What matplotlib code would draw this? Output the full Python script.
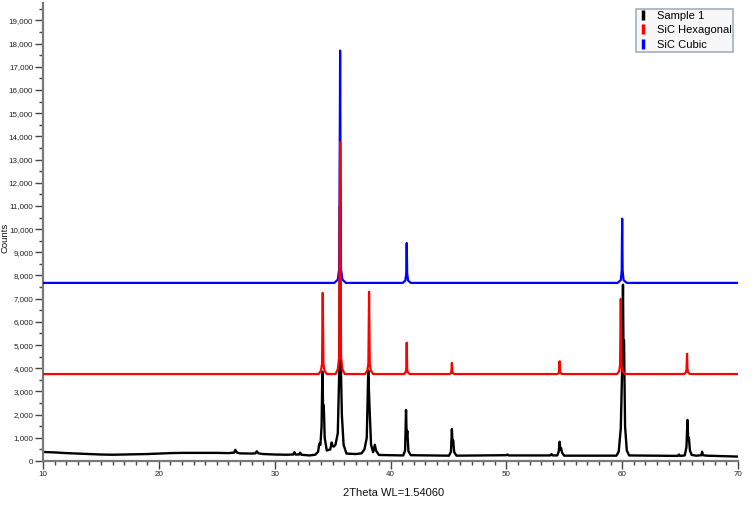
import matplotlib
matplotlib.use("Agg")
import matplotlib.pyplot as plt
from matplotlib.lines import Line2D
from matplotlib.ticker import MultipleLocator, FuncFormatter

plt.rcParams['font.family'] = ['Liberation Sans', 'DejaVu Sans']

series_names = ["Sample 1", "SiC Hexagonal", "SiC Cubic"]
series_colors = ["#000000", "#FF0000", "#0000FF"]

# SiC cubico (deslocado para 7680)
cubic_x = [10, 35.15, 35.45, 35.58, 35.65, 35.72, 35.85, 36.15,
           41.05, 41.28, 41.36, 41.4, 41.44, 41.52, 41.75,
           59.6, 59.88, 59.96, 60.0, 60.04, 60.12, 60.4, 70]
cubic_y = [7680, 7680, 7820, 8300, 17700, 8300, 7820, 7680,
           7680, 7780, 8100, 9400, 8100, 7780, 7680,
           7680, 7800, 8200, 10450, 8200, 7800, 7680, 7680]

# SiC hexagonal (deslocado para 3750)
hex_x = [10,
         33.8, 34.0, 34.09, 34.15, 34.21, 34.3, 34.5,
         35.25, 35.45, 35.57, 35.65, 35.73, 35.85, 36.05,
         37.8, 38.0, 38.09, 38.15, 38.21, 38.3, 38.5,
         41.15, 41.3, 41.36, 41.4, 41.44, 41.5, 41.65,
         45.1, 45.25, 45.3, 45.35, 45.5,
         54.4, 54.55, 54.6, 54.65, 54.8,
         59.55, 59.75, 59.82, 59.88, 59.94, 60.03, 60.23,
         65.35, 65.5, 65.56, 65.6, 65.64, 65.7, 65.85,
         70]
hex_y = [3750,
         3750, 3900, 4200, 7250, 4200, 3900, 3750,
         3750, 3950, 4500, 13750, 4500, 3950, 3750,
         3750, 3900, 4200, 7300, 4200, 3900, 3750,
         3750, 3820, 3950, 5100, 3950, 3820, 3750,
         3750, 3810, 4230, 3810, 3750,
         3750, 3810, 4300, 3810, 3750,
         3750, 3880, 4150, 6990, 4150, 3880, 3750,
         3750, 3820, 3950, 4620, 3950, 3820, 3750,
         3750]

# amostra 1 (medida)
sample_x = [10, 11, 12, 13, 14, 15, 16, 17, 18, 19, 20, 21, 22, 23, 24, 25, 26,
            26.5, 26.6, 26.75, 27, 28, 28.35, 28.45, 28.6, 29, 30, 31,
            31.6, 31.7, 31.8, 32.1, 32.2, 32.3, 33, 33.5,
            33.75, 33.85, 33.95, 34.05, 34.12, 34.18, 34.24, 34.32, 34.5,
            34.8, 34.92, 35.0, 35.1, 35.25, 35.45, 35.58, 35.64, 35.7, 35.8, 35.95, 36.2,
            37, 37.5, 37.75, 37.95, 38.08, 38.14, 38.2, 38.32, 38.5, 38.65, 38.75, 39,
            41.1, 41.26, 41.34, 41.4, 41.45, 41.55, 41.75,
            45.05, 45.22, 45.3, 45.36, 45.41, 45.5, 45.7,
            50, 50.1, 50.2, 53.8, 53.9, 54.0,
            54.4, 54.52, 54.6, 54.66, 54.72, 54.82, 55.0,
            59.5, 59.7, 59.88, 60.0, 60.07, 60.11, 60.16, 60.25, 60.4, 60.6,
            64.8, 64.9, 65.0, 65.4, 65.55, 65.64, 65.7, 65.76, 65.85, 66.0,
            66.4, 66.85, 66.9, 66.97, 67.3, 70]
sample_y = [390, 370, 340, 320, 300, 280, 270, 280, 290, 300, 320, 340, 350, 350, 350, 350, 340,
            360, 480, 360, 330, 320, 330, 420, 330, 300, 280, 270,
            280, 380, 280, 280, 360, 270, 240, 270,
            400, 750, 700, 1500, 3850, 2300, 2400, 1000, 450,
            500, 800, 650, 620, 700, 1200, 4000, 11000, 4500, 2000, 700, 320,
            300, 330, 500, 1000, 3900, 3000, 2200, 700, 380, 700, 450, 260,
            240, 450, 2200, 1000, 1300, 420, 250,
            230, 400, 1380, 700, 880, 380, 230,
            250, 280, 240, 240, 300, 240,
            240, 400, 830, 500, 560, 350, 230,
            230, 400, 1400, 4000, 7600, 5000, 5200, 1500, 450, 240,
            220, 280, 220, 240, 600, 1770, 900, 1000, 450, 260,
            230, 250, 400, 250, 230, 190]

y_ticks = list(range(0, 20000, 1000))

fig = plt.figure(figsize=(7.52, 5.05), dpi=100)
ax = fig.add_axes([43 / 752, 1 - 461 / 505, 695 / 752, 458 / 505])

ax.plot(sample_x, sample_y, color=series_colors[0], lw=1.7, zorder=2)
ax.plot(cubic_x, cubic_y, color=series_colors[2], lw=1.6, zorder=3)
ax.plot(hex_x, hex_y, color=series_colors[1], lw=1.6, zorder=4)

ax.set_xlim(10, 70)
ax.set_ylim(0, 19750)
ax.xaxis.set_major_locator(MultipleLocator(10))
ax.xaxis.set_minor_locator(MultipleLocator(1))
ax.set_yticks(y_ticks)
ax.yaxis.set_minor_locator(MultipleLocator(500))
ax.yaxis.set_major_formatter(FuncFormatter(lambda v, p: f"{v:,.0f}"))

for s in ["top", "right"]:
    ax.spines[s].set_visible(False)
for s in ["left", "bottom"]:
    ax.spines[s].set_color("#7a7a7a")
    ax.spines[s].set_linewidth(1.6)

ax.tick_params(which="major", direction="out", length=6, width=1, color="#444444",
               labelsize=5.8, labelcolor="#222222", pad=1)
ax.tick_params(which="minor", direction="out", length=3, width=1, color="#444444")

fig.text(394 / 752, 1 - 493 / 505, "2Theta WL=1.54060", ha="center", va="center",
         fontsize=8, color="#111111")
fig.text(5 / 752, 1 - 238 / 505, "Counts", ha="center", va="center",
         rotation=90, fontsize=6.8, color="#111111")

handles = [Line2D([], [], color=c, marker="|", linestyle="None",
                  markersize=7, markeredgewidth=2.5) for c in series_colors]
leg = fig.legend(handles, series_names, loc="upper right",
                 bbox_to_anchor=(733 / 752, 1 - 9 / 505), fontsize=8,
                 frameon=True, fancybox=False, edgecolor="#a6afb8",
                 facecolor="#f7f7f7", framealpha=1, borderpad=0.15,
                 labelspacing=0.42, handlelength=1.0, handletextpad=0.7,
                 borderaxespad=0)
leg.get_frame().set_linewidth(1.2)

fig.savefig("out.png", dpi=100)
